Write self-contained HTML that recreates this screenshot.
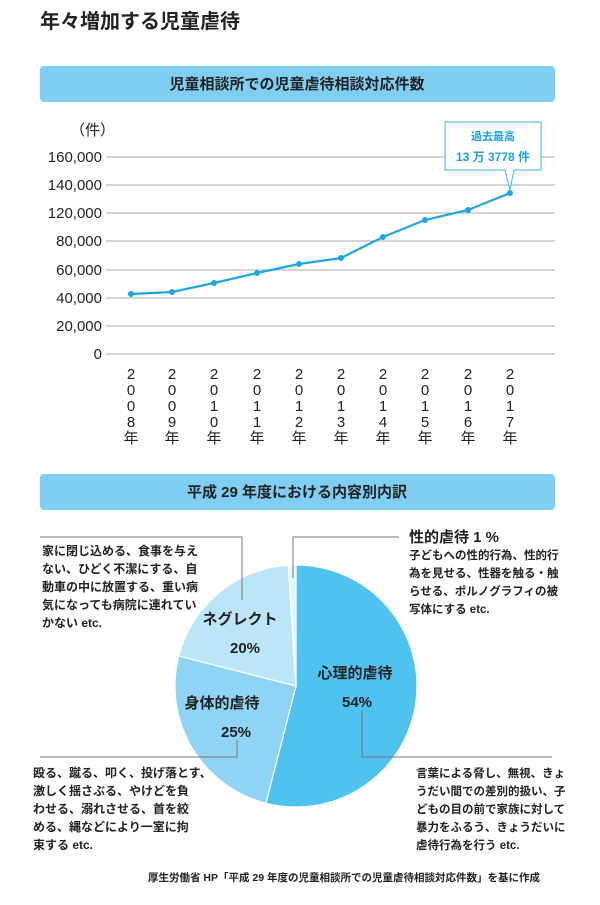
<!DOCTYPE html>
<html><head><meta charset="utf-8"><style>
html,body{margin:0;padding:0;background:#fff;}
svg text{font-family:"Liberation Sans","Noto Sans CJK JP",sans-serif;fill:#222;}
</style></head><body>
<svg width="600" height="900" viewBox="0 0 600 900" xmlns="http://www.w3.org/2000/svg">
<text x="40" y="28" font-size="20" font-weight="bold">年々増加する児童虐待</text>
<rect x="40" y="66" width="515" height="36" rx="4" fill="#80cff3"/>
<text x="297" y="89" font-size="15" font-weight="bold" text-anchor="middle">児童相談所での児童虐待相談対応件数</text>

<text x="70" y="135" font-size="15">（件）</text>
<g stroke="#aaa" stroke-width="1">
<line x1="106" y1="157" x2="555" y2="157"/><line x1="106" y1="185" x2="555" y2="185"/>
<line x1="106" y1="213" x2="555" y2="213"/><line x1="106" y1="241" x2="555" y2="241"/>
<line x1="106" y1="270" x2="555" y2="270"/><line x1="106" y1="298" x2="555" y2="298"/>
<line x1="106" y1="326" x2="555" y2="326"/><line x1="106" y1="354" x2="555" y2="354"/>
</g>
<g font-size="15" text-anchor="end">
<text x="102" y="162">160,000</text><text x="102" y="190">140,000</text>
<text x="102" y="218">120,000</text><text x="102" y="246">80,000</text>
<text x="102" y="275">60,000</text><text x="102" y="303">40,000</text>
<text x="102" y="331">20,000</text><text x="102" y="359">0</text>
</g>
<polyline fill="none" stroke="#1ca6e6" stroke-width="2.2" points="131,294 172,292 214,283 257,273 299,264 341,258 383,237 425,220 468,210 510,193"/>
<g fill="#1ca6e6">
<circle cx="131" cy="294" r="3"/><circle cx="172" cy="292" r="3"/><circle cx="214" cy="283" r="3"/>
<circle cx="257" cy="273" r="3"/><circle cx="299" cy="264" r="3"/><circle cx="341" cy="258" r="3"/>
<circle cx="383" cy="237" r="3"/><circle cx="425" cy="220" r="3"/><circle cx="468" cy="210" r="3"/>
<circle cx="510" cy="193" r="3"/>
</g>
<path d="M445,122 H541 V170 H514 L510,190 L505,170 H445 Z" fill="#fff" stroke="#3bb3ea" stroke-width="1"/>
<text x="493" y="140" font-size="11" font-weight="bold" text-anchor="middle" style="fill:#1ca0e0">過去最高</text>
<text x="493" y="161" font-size="12" font-weight="bold" text-anchor="middle" style="fill:#1ca0e0">13 万 3778 件</text>

<g font-size="15" text-anchor="middle">
<text x="131" y="379">2</text><text x="131" y="395">0</text><text x="131" y="411">0</text><text x="131" y="427">8</text><text x="131" y="443">年</text>
<text x="172" y="379">2</text><text x="172" y="395">0</text><text x="172" y="411">0</text><text x="172" y="427">9</text><text x="172" y="443">年</text>
<text x="214" y="379">2</text><text x="214" y="395">0</text><text x="214" y="411">1</text><text x="214" y="427">0</text><text x="214" y="443">年</text>
<text x="257" y="379">2</text><text x="257" y="395">0</text><text x="257" y="411">1</text><text x="257" y="427">1</text><text x="257" y="443">年</text>
<text x="299" y="379">2</text><text x="299" y="395">0</text><text x="299" y="411">1</text><text x="299" y="427">2</text><text x="299" y="443">年</text>
<text x="341" y="379">2</text><text x="341" y="395">0</text><text x="341" y="411">1</text><text x="341" y="427">3</text><text x="341" y="443">年</text>
<text x="383" y="379">2</text><text x="383" y="395">0</text><text x="383" y="411">1</text><text x="383" y="427">4</text><text x="383" y="443">年</text>
<text x="425" y="379">2</text><text x="425" y="395">0</text><text x="425" y="411">1</text><text x="425" y="427">5</text><text x="425" y="443">年</text>
<text x="468" y="379">2</text><text x="468" y="395">0</text><text x="468" y="411">1</text><text x="468" y="427">6</text><text x="468" y="443">年</text>
<text x="510" y="379">2</text><text x="510" y="395">0</text><text x="510" y="411">1</text><text x="510" y="427">7</text><text x="510" y="443">年</text>
</g>

<rect x="40" y="474" width="515" height="36" rx="4" fill="#80cff3"/>
<text x="297" y="497" font-size="15" font-weight="bold" text-anchor="middle">平成 29 年度における内容別内訳</text>

<g stroke="#fff" stroke-width="1.2">
<path d="M296,686 L296,565 A121,121 0 1 1 265.9,803.2 Z" fill="#50c2f0"/>
<path d="M296,686 L265.9,803.2 A121,121 0 0 1 178.8,655.9 Z" fill="#8fd3f5"/>
<path d="M296,686 L178.8,655.9 A121,121 0 0 1 288.4,565.2 Z" fill="#bde5f8"/>
<path d="M296,686 L288.4,565.2 A121,121 0 0 1 296,565 Z" fill="#e3f4fc"/>
</g>
<g font-size="15" font-weight="bold" text-anchor="middle">
<text x="240" y="624">ネグレクト</text><text x="245" y="653">20%</text>
<text x="222" y="708">身体的虐待</text><text x="236" y="737">25%</text>
<text x="355" y="678">心理的虐待</text><text x="357" y="707">54%</text>
</g>
<g fill="none" stroke="#777" stroke-width="1">
<polyline points="40,537 242,537 242,600"/>
<polyline points="399,537 293,537 293,578"/>
<polyline points="40,757 237,757 237,740"/>
<polyline points="362,710 362,757 552,757"/>
</g>
<g font-size="12" font-weight="bold">
<text x="42" y="555">家に閉じ込める、食事を与え</text>
<text x="42" y="573">ない、ひどく不潔にする、自</text>
<text x="42" y="591">動車の中に放置する、重い病</text>
<text x="42" y="609">気になっても病院に連れてい</text>
<text x="42" y="627">かない etc.</text>
<text x="409" y="559" font-size="11.5">子どもへの性的行為、性的行</text>
<text x="409" y="577" font-size="11.5">為を見せる、性器を触る・触</text>
<text x="409" y="595" font-size="11.5">らせる、ポルノグラフィの被</text>
<text x="409" y="613" font-size="11.5">写体にする etc.</text>
<text x="33" y="777">殴る、蹴る、叩く、投げ落とす、</text>
<text x="33" y="795">激しく揺さぶる、やけどを負</text>
<text x="33" y="813">わせる、溺れさせる、首を絞</text>
<text x="33" y="831">める、縄などにより一室に拘</text>
<text x="33" y="849">束する etc.</text>
<text x="416" y="777" font-size="11.5">言葉による脅し、無視、きょ</text>
<text x="416" y="795" font-size="11.5">うだい間での差別的扱い、子</text>
<text x="416" y="813" font-size="11.5">どもの目の前で家族に対して</text>
<text x="416" y="831" font-size="11.5">暴力をふるう、きょうだいに</text>
<text x="416" y="849" font-size="11.5">虐待行為を行う etc.</text>
</g>
<text x="409" y="542" font-size="15" font-weight="bold">性的虐待 1 %</text>
<text x="148" y="881" font-size="10.5" font-weight="bold">厚生労働省 HP「平成 29 年度の児童相談所での児童虐待相談対応件数」を基に作成</text>
</svg>
</body></html>
